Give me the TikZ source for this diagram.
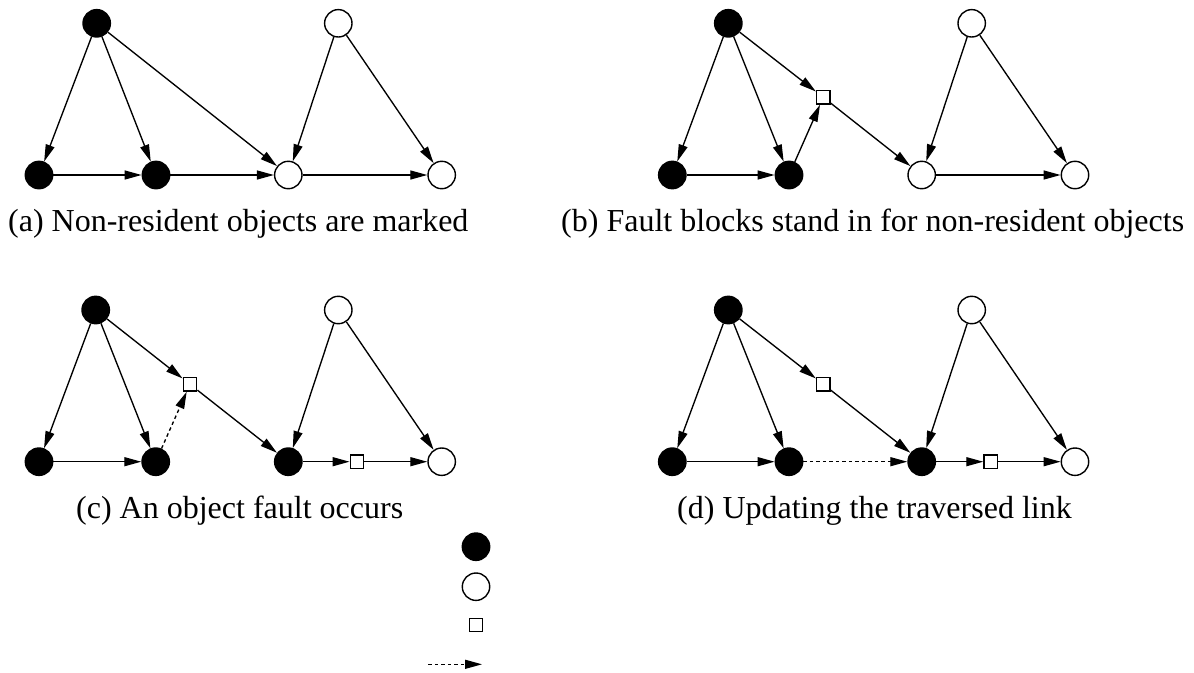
\documentclass[tikz,border=0pt]{standalone}
\usepackage{fontspec}
\setmainfont{Liberation Serif}
\usetikzlibrary{arrows.meta}
\begin{document}
\begin{tikzpicture}[x=1pt,y=-1pt,
  full/.style={circle,draw,fill=black,line width=1.4pt,minimum size=27.4pt,inner sep=0pt},
  empty/.style={circle,draw,fill=white,line width=1.4pt,minimum size=27.4pt,inner sep=0pt},
  fblock/.style={rectangle,draw,fill=white,line width=1.4pt,minimum size=13.5pt,inner sep=0pt},
  link/.style={line width=1.35pt,-{Triangle[length=17pt,width=9pt]}},
  dlink/.style={link,dash pattern=on 3.5pt off 3pt},
  captext/.style={font=\fontsize{32}{36}\selectfont,inner sep=0pt,anchor=base west}]
\useasboundingbox (0,0) rectangle (1194,672);
% ---- (a)
\node[full]  (aT1) at (96.7,23.3) {};
\node[empty] (aT2) at (338.3,23.3) {};
\node[full]  (aL)  at (39,175) {};
\node[full]  (aM)  at (156,175) {};
\node[empty] (aO)  at (288.3,175) {};
\node[empty] (aR)  at (441.7,175) {};
\draw[link] (aT1) -- (aL);
\draw[link] (aT1) -- (aM);
\draw[link] (aT1) -- (aO);
\draw[link] (aL) -- (aM);
\draw[link] (aM) -- (aO);
\draw[link] (aT2) -- (aO);
\draw[link] (aT2) -- (aR);
\draw[link] (aO) -- (aR);
\node[captext] (acap) at (8,231) {(a) Non-resident objects are marked};
% ---- (b)
\node[full]  (bT1) at (728.3,23.3) {};
\node[empty] (bT2) at (971.7,23.3) {};
\node[full]  (bL)  at (672.3,175) {};
\node[full]  (bM)  at (789,175) {};
\node[fblock] (bS) at (823.3,97.3) {};
\node[empty] (bO)  at (921.7,175) {};
\node[empty] (bR)  at (1075,175) {};
\draw[link] (bT1) -- (bL);
\draw[link] (bT1) -- (bM);
\draw[link] (bT1) -- (bS);
\draw[link] (bM) -- (bS);
\draw[link] (bS) -- (bO);
\draw[link] (bL) -- (bM);
\draw[link] (bT2) -- (bO);
\draw[link] (bT2) -- (bR);
\draw[link] (bO) -- (bR);
\node[captext] (bcap) at (561,231) {(b) Fault blocks stand in for non-resident objects};
% ---- (c)
\node[full]  (cT1) at (95.7,310) {};
\node[empty] (cT2) at (338.3,310) {};
\node[full]  (cL)  at (39,461.7) {};
\node[full]  (cM)  at (155.7,461.7) {};
\node[fblock] (cS) at (190,384.3) {};
\node[full]  (cO)  at (288.3,461.7) {};
\node[fblock] (cS2) at (357,461.7) {};
\node[empty] (cR)  at (441.7,461.7) {};
\draw[link] (cT1) -- (cL);
\draw[link] (cT1) -- (cM);
\draw[link] (cT1) -- (cS);
\draw[dlink] (cM) -- (cS);
\draw[link] (cS) -- (cO);
\draw[link] (cL) -- (cM);
\draw[link] (cT2) -- (cO);
\draw[link] (cT2) -- (cR);
\draw[link] (cO) -- (cS2);
\draw[link] (cS2) -- (cR);
\node[captext] (ccap) at (76,518) {(c) An object fault occurs};
% ---- (d)
\node[full]  (dT1) at (728.3,310) {};
\node[empty] (dT2) at (971.7,310) {};
\node[full]  (dL)  at (672.3,461.7) {};
\node[full]  (dM)  at (789,461.7) {};
\node[fblock] (dS) at (823.3,384.3) {};
\node[full]  (dO)  at (921.7,461.7) {};
\node[fblock] (dS2) at (990.7,461.7) {};
\node[empty] (dR)  at (1075,461.7) {};
\draw[link] (dT1) -- (dL);
\draw[link] (dT1) -- (dM);
\draw[link] (dT1) -- (dS);
\draw[link] (dS) -- (dO);
\draw[link] (dL) -- (dM);
\draw[dlink] (dM) -- (dO);
\draw[link] (dT2) -- (dO);
\draw[link] (dT2) -- (dR);
\draw[link] (dO) -- (dS2);
\draw[link] (dS2) -- (dR);
\node[captext] (dcap) at (677,518) {(d) Updating the traversed link};
% ---- legend
\node[full]  (lf) at (476,546.7) {};
\node[empty] (le) at (476,586.7) {};
\node[fblock] (ls) at (476,625) {};
\coordinate (la) at (428.3,664.3);
\coordinate (lb) at (482,664.3);
\draw[dlink] (la) -- (lb);
\end{tikzpicture}
\end{document}
